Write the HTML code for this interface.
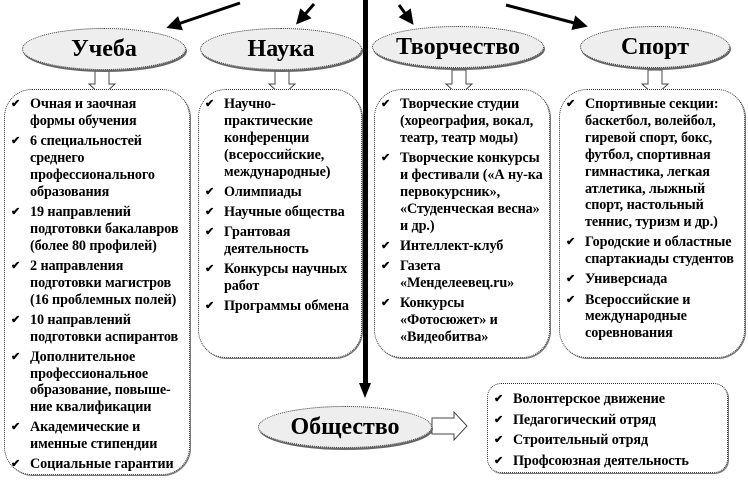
<!DOCTYPE html>
<html><head><meta charset="utf-8"><style>
body{margin:0;width:748px;height:480px;background:#fff;position:relative;overflow:hidden;font-family:"Liberation Serif",serif;font-weight:bold;color:#000}
.el{position:absolute;border:1px dotted #333;border-radius:50%;background:#eee;box-shadow:1px 2px 0 #666;display:flex;align-items:center;justify-content:center;font-size:24px}
.bx{position:absolute;border:1px dotted #333;border-radius:28px;background:#fff;box-shadow:1px 1px 0 #777;box-sizing:border-box}
ul{list-style:none;margin:0;padding:0;font-size:14.2px;line-height:16.9px;white-space:nowrap;letter-spacing:-0.1px}
li{position:relative;padding-left:25px;margin-bottom:3.2px}
li:before{content:"✔";position:absolute;left:6px;font-size:11px}
</style></head><body>
<svg width="748" height="480" style="position:absolute;left:0;top:0">
<defs><marker id="a" markerWidth="5" markerHeight="5" refX="3" refY="2.5" orient="auto"><path d="M0,0L5,2.5L0,5z" fill="#000"/></marker></defs>
<g stroke="#000" stroke-width="3" fill="none" marker-end="url(#a)">
<line x1="240" y1="3" x2="172" y2="26"/>
<line x1="314" y1="4" x2="300" y2="20"/>
<line x1="399" y1="5" x2="410" y2="20"/>
<line x1="506" y1="5" x2="582" y2="25"/>
</g>
<rect x="363" y="0" width="5" height="385" fill="#000"/>
<path d="M359,383L371,383L365,398z" fill="#000"/>
<g fill="#fff" stroke="#444" stroke-width="1">
<path d="M95,70h14v14h6l-13,12l-13,-12h6z"/>
<path d="M275,70h14v14h6l-13,12l-13,-12h6z"/>
<path d="M452,70h14v14h6l-13,12l-13,-12h6z"/>
<path d="M648,70h14v14h6l-13,12l-13,-12h6z"/>
<path d="M432,418h22v-6l13,14l-13,14v-6h-22z"/>
</g>
</svg>
<div class="el" style="left:22px;top:28px;width:162px;height:40px">Учеба</div>
<div class="el" style="left:200px;top:28px;width:160px;height:40px">Наука</div>
<div class="el" style="left:372px;top:26px;width:170px;height:40px">Творчество</div>
<div class="el" style="left:580px;top:26px;width:148px;height:40px">Спорт</div>
<div class="el" style="left:258px;top:406px;width:172px;height:40px">Общество</div>
<div class="bx" style="left:4px;top:89px;width:186px;height:386px;padding-top:6px"><ul>
<li>Очная и заочная<br>формы обучения</li><li>6 специальностей<br>среднего<br>профессионального<br>образования</li><li>19 направлений<br>подготовки бакалавров<br>(более 80 профилей)</li><li>2 направления<br>подготовки магистров<br>(16 проблемных полей)</li><li>10 направлений<br>подготовки аспирантов</li><li>Дополнительное<br>профессиональное<br>образование, повыше-<br>ние квалификации</li><li>Академические и<br>именные стипендии</li><li>Социальные гарантии</li></ul></div>
<div class="bx" style="left:198px;top:89px;width:164px;height:269px;padding-top:6px"><ul>
<li>Научно-<br>практические<br>конференции<br>(всероссийские,<br>международные)</li><li>Олимпиады</li><li>Научные общества</li><li>Грантовая<br>деятельность</li><li>Конкурсы научных<br>работ</li><li>Программы обмена</li></ul></div>
<div class="bx" style="left:374px;top:89px;width:176px;height:269px;padding-top:6px"><ul>
<li>Творческие студии<br>(хореография, вокал,<br>театр, театр моды)</li><li>Творческие конкурсы<br>и фестивали («А ну-ка<br>первокурсник»,<br>«Студенческая весна»<br>и др.)</li><li>Интеллект-клуб</li><li>Газета<br>«Менделеевец.ru»</li><li>Конкурсы<br>«Фотосюжет» и<br>«Видеобитва»</li></ul></div>
<div class="bx" style="left:559px;top:89px;width:186px;height:269px;padding-top:6px"><ul>
<li>Спортивные секции:<br>баскетбол, волейбол,<br>гиревой спорт, бокс,<br>футбол, спортивная<br>гимнастика, легкая<br>атлетика, лыжный<br>спорт, настольный<br>теннис, туризм и др.)</li><li>Городские и областные<br>спартакиады студентов</li><li>Универсиада</li><li>Всероссийские и<br>международные<br>соревнования</li></ul></div>
<div class="bx" style="left:487px;top:383px;width:241px;height:90px;border-radius:14px;padding-top:5px"><ul style="line-height:20.5px">
<li style="margin:0">Волонтерское движение</li><li style="margin:0">Педагогический отряд</li><li style="margin:0">Строительный отряд</li><li style="margin:0">Профсоюзная деятельность</li></ul></div>
</body></html>
